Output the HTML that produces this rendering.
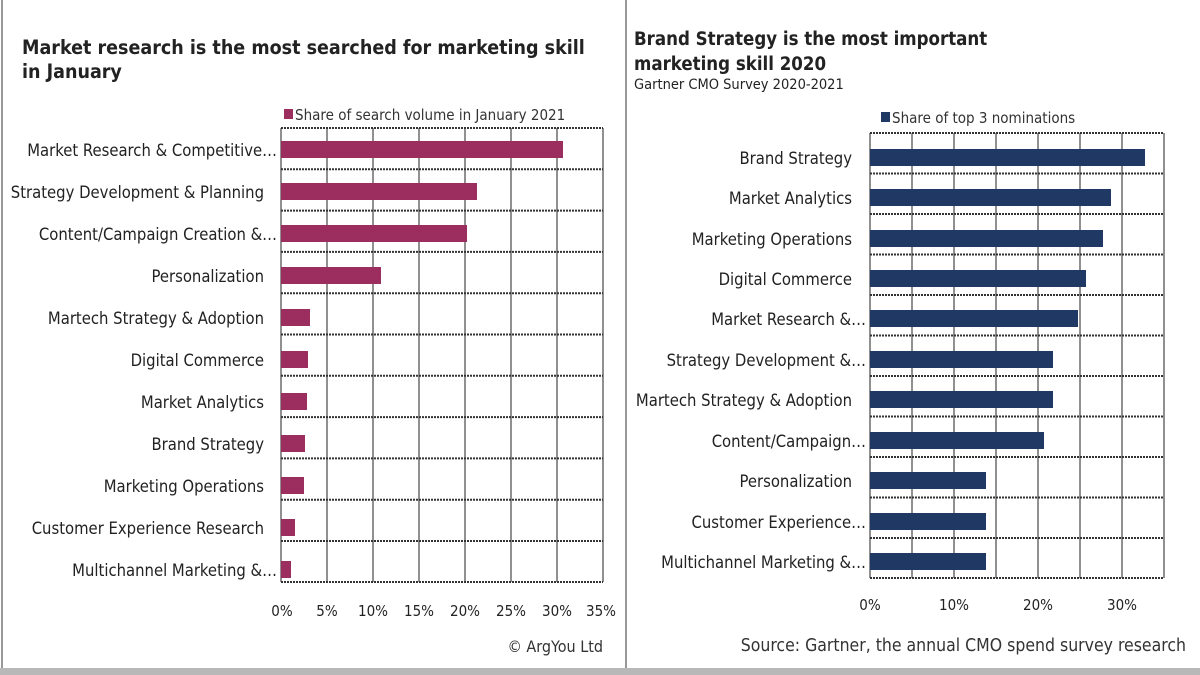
<!DOCTYPE html>
<html><head><style>
body{margin:0;background:#fff}
svg{display:block;font-family:"DejaVu Sans Condensed","Liberation Sans",sans-serif}
</style></head><body>
<svg width="1200" height="675" xmlns="http://www.w3.org/2000/svg">
<rect x="0" y="0" width="1200" height="675" fill="#fff"/>
<line x1="2" y1="0" x2="2" y2="670" stroke="#999" stroke-width="2"/>
<line x1="626" y1="0" x2="626" y2="670" stroke="#999" stroke-width="2"/>
<rect x="0" y="668" width="1200" height="7" fill="#b8b8b8"/>

<!-- LEFT -->
<text x="22" y="54" font-size="19.5" font-weight="bold" fill="#222">Market research is the most searched for marketing skill</text>
<text x="22" y="78" font-size="19.5" font-weight="bold" fill="#222">in January</text>
<rect x="284" y="109" width="9" height="10" fill="#9b2d5f"/>
<text x="295" y="120" font-size="15" fill="#333">Share of search volume in January 2021</text>
<g stroke="#222" stroke-width="1">
<line x1="281" y1="128" x2="281" y2="582"/><line x1="327" y1="128" x2="327" y2="582"/><line x1="373" y1="128" x2="373" y2="582"/><line x1="419" y1="128" x2="419" y2="582"/><line x1="465" y1="128" x2="465" y2="582"/><line x1="511" y1="128" x2="511" y2="582"/><line x1="557" y1="128" x2="557" y2="582"/><line x1="603" y1="128" x2="603" y2="582"/>
</g>
<g stroke="#333" stroke-width="2" stroke-dasharray="2,1">
<line x1="281" y1="128" x2="603" y2="128"/><line x1="281" y1="169.3" x2="603" y2="169.3"/><line x1="281" y1="210.6" x2="603" y2="210.6"/><line x1="281" y1="251.9" x2="603" y2="251.9"/><line x1="281" y1="293.2" x2="603" y2="293.2"/><line x1="281" y1="334.5" x2="603" y2="334.5"/><line x1="281" y1="375.8" x2="603" y2="375.8"/><line x1="281" y1="417.1" x2="603" y2="417.1"/><line x1="281" y1="458.4" x2="603" y2="458.4"/><line x1="281" y1="499.7" x2="603" y2="499.7"/><line x1="281" y1="541" x2="603" y2="541"/><line x1="281" y1="582" x2="603" y2="582"/>
</g>
<g fill="#9b2d5f">
<rect x="281" y="141" width="282" height="17"/>
<rect x="281" y="183" width="196" height="17"/>
<rect x="281" y="225" width="186" height="17"/>
<rect x="281" y="267" width="100" height="17"/>
<rect x="281" y="309" width="29" height="17"/>
<rect x="281" y="351" width="27" height="17"/>
<rect x="281" y="393" width="26" height="17"/>
<rect x="281" y="435" width="24" height="17"/>
<rect x="281" y="477" width="23" height="17"/>
<rect x="281" y="519" width="14" height="17"/>
<rect x="281" y="561" width="10" height="17"/>
</g>
<g font-size="16.5" fill="#222" text-anchor="end">
<text x="277" y="156">Market Research &amp; Competitive…</text>
<text x="264" y="198">Strategy Development &amp; Planning</text>
<text x="277" y="240">Content/Campaign Creation &amp;…</text>
<text x="264" y="282">Personalization</text>
<text x="264" y="324">Martech Strategy &amp; Adoption</text>
<text x="264" y="366">Digital Commerce</text>
<text x="264" y="408">Market Analytics</text>
<text x="264" y="450">Brand Strategy</text>
<text x="264" y="492">Marketing Operations</text>
<text x="264" y="534">Customer Experience Research</text>
<text x="277" y="576">Multichannel Marketing &amp;…</text>
</g>
<g font-size="15" fill="#222" text-anchor="middle">
<text x="282" y="616">0%</text><text x="327" y="616">5%</text><text x="373" y="616">10%</text><text x="419" y="616">15%</text><text x="465" y="616">20%</text><text x="511" y="616">25%</text><text x="557" y="616">30%</text><text x="601" y="616">35%</text>
</g>
<text x="603" y="652" font-size="16" fill="#333" text-anchor="end">© ArgYou Ltd</text>

<!-- RIGHT -->
<text x="634" y="45" font-size="18.5" font-weight="bold" fill="#222">Brand Strategy is the most important</text>
<text x="634" y="70" font-size="18.5" font-weight="bold" fill="#222">marketing skill 2020</text>
<text x="634" y="89" font-size="14.5" fill="#222">Gartner CMO Survey 2020-2021</text>
<rect x="881" y="112" width="9" height="10" fill="#1f3864"/>
<text x="892" y="123" font-size="15" fill="#333">Share of top 3 nominations</text>
<g stroke="#222" stroke-width="1">
<line x1="870" y1="133" x2="870" y2="578"/><line x1="912" y1="133" x2="912" y2="578"/><line x1="954" y1="133" x2="954" y2="578"/><line x1="996" y1="133" x2="996" y2="578"/><line x1="1038" y1="133" x2="1038" y2="578"/><line x1="1080" y1="133" x2="1080" y2="578"/><line x1="1122" y1="133" x2="1122" y2="578"/><line x1="1164" y1="133" x2="1164" y2="578"/>
</g>
<g stroke="#333" stroke-width="2" stroke-dasharray="2,1">
<line x1="870" y1="133" x2="1164" y2="133"/><line x1="870" y1="173.5" x2="1164" y2="173.5"/><line x1="870" y1="214" x2="1164" y2="214"/><line x1="870" y1="254.5" x2="1164" y2="254.5"/><line x1="870" y1="295" x2="1164" y2="295"/><line x1="870" y1="335.5" x2="1164" y2="335.5"/><line x1="870" y1="376" x2="1164" y2="376"/><line x1="870" y1="416.5" x2="1164" y2="416.5"/><line x1="870" y1="457" x2="1164" y2="457"/><line x1="870" y1="497.5" x2="1164" y2="497.5"/><line x1="870" y1="538" x2="1164" y2="538"/><line x1="870" y1="578" x2="1164" y2="578"/>
</g>
<g fill="#1f3864">
<rect x="870" y="149" width="275" height="17"/>
<rect x="870" y="189" width="241" height="17"/>
<rect x="870" y="230" width="233" height="17"/>
<rect x="870" y="270" width="216" height="17"/>
<rect x="870" y="310" width="208" height="17"/>
<rect x="870" y="351" width="183" height="17"/>
<rect x="870" y="391" width="183" height="17"/>
<rect x="870" y="432" width="174" height="17"/>
<rect x="870" y="472" width="116" height="17"/>
<rect x="870" y="513" width="116" height="17"/>
<rect x="870" y="553" width="116" height="17"/>
</g>
<g font-size="16.5" fill="#222" text-anchor="end">
<text x="852" y="164">Brand Strategy</text>
<text x="852" y="204">Market Analytics</text>
<text x="852" y="245">Marketing Operations</text>
<text x="852" y="285">Digital Commerce</text>
<text x="866" y="325">Market Research &amp;…</text>
<text x="866" y="366">Strategy Development &amp;…</text>
<text x="852" y="406">Martech Strategy &amp; Adoption</text>
<text x="866" y="447">Content/Campaign…</text>
<text x="852" y="487">Personalization</text>
<text x="866" y="528">Customer Experience…</text>
<text x="866" y="568">Multichannel Marketing &amp;…</text>
</g>
<g font-size="15" fill="#222" text-anchor="middle">
<text x="870" y="610">0%</text><text x="954" y="610">10%</text><text x="1038" y="610">20%</text><text x="1122" y="610">30%</text>
</g>
<text x="1186" y="651" font-size="17.5" fill="#333" text-anchor="end">Source: Gartner, the annual CMO spend survey research</text>
</svg>
</body></html>
